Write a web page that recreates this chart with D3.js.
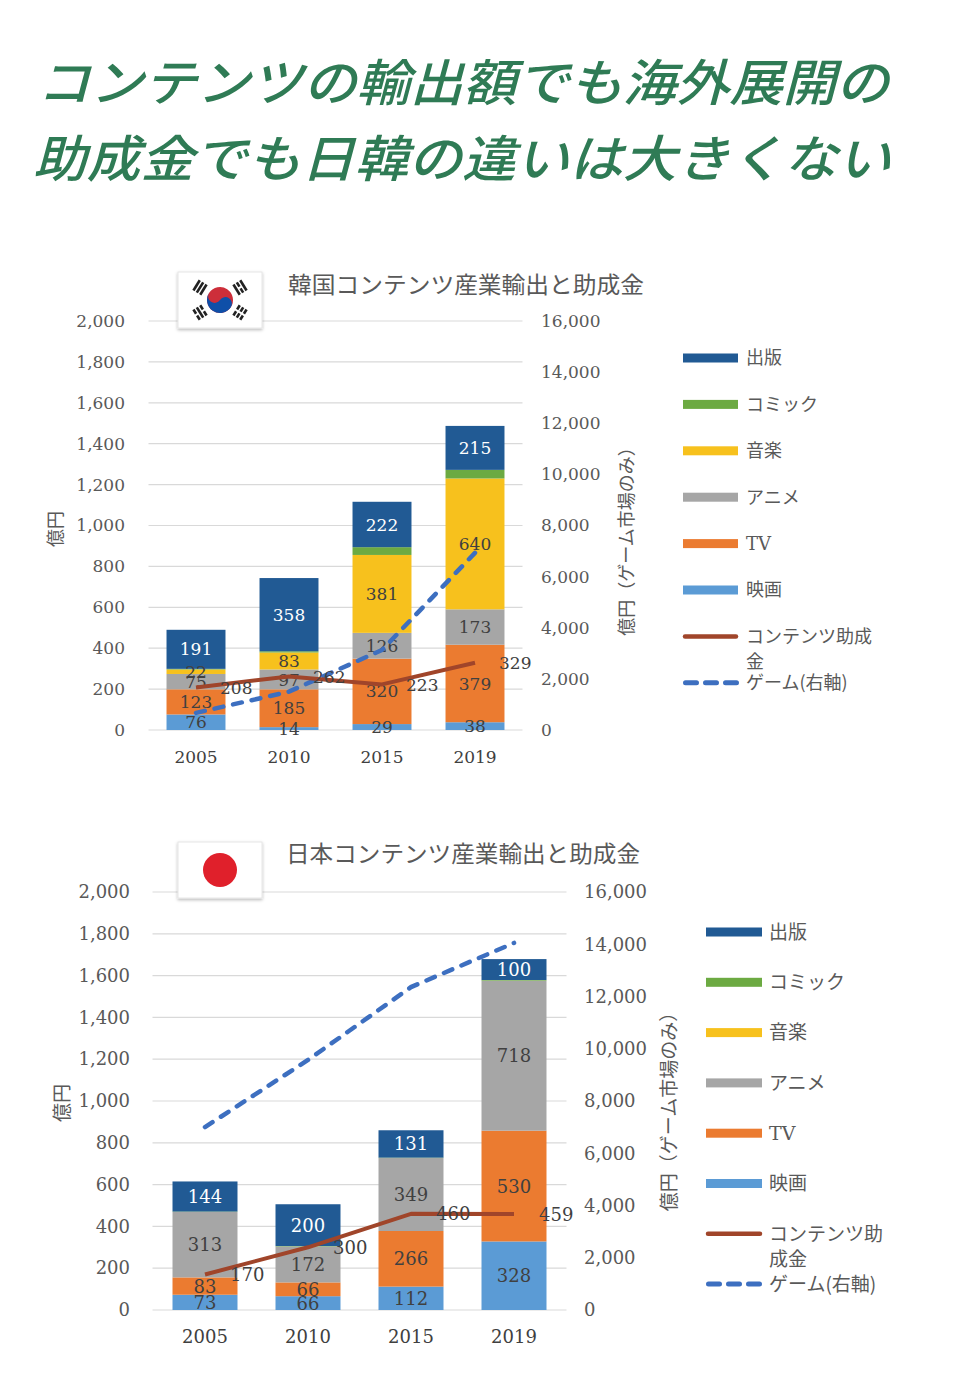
<!DOCTYPE html>
<html><head><meta charset="utf-8">
<script src="https://cdn.jsdelivr.net/npm/d3@7/dist/d3.min.js"></script>
<style>
html,body{margin:0;padding:0;background:#fff;}
svg{display:block;}
</style>
</head><body>
<svg id="chart" width="960" height="1384"></svg>
<script>
// ---------- DATA ----------
const years = ["2005", "2010", "2015", "2019"];
const seriesKeys = ["映画", "TV", "アニメ", "音楽", "コミック", "出版"]; // bottom -> top
const legendOrder = ["出版", "コミック", "音楽", "アニメ", "TV", "映画"];
const leftTicks = [0, 200, 400, 600, 800, 1000, 1200, 1400, 1600, 1800, 2000];
const rightTicks = [0, 2000, 4000, 6000, 8000, 10000, 12000, 14000, 16000];

// Korea
const krFilm = [76, 14, 29, 38];
const krTV = [123, 185, 320, 379];
const krAnime = [75, 97, 126, 173];
const krMusic = [22, 83, 381, 640];
const krComic = [3, 6, 38, 42];
const krPublish = [191, 358, 222, 215];
const krSubsidy = [208, 262, 223, 329];
const krGame = [670, 1500, 3130, 6930];

// Japan
const jpFilm = [73, 66, 112, 328];
const jpTV = [83, 66, 266, 530];
const jpAnime = [313, 172, 349, 718];
const jpMusic = [0, 0, 0, 0];
const jpComic = [2, 2, 2, 3];
const jpPublish = [144, 200, 131, 100];
const jpSubsidy = [170, 300, 460, 459];
const jpGame = [7000, 9570, 12360, 14050];

const titleLines = ["コンテンツの輸出額でも海外展開の", "助成金でも日韓の違いは大きくない"];
const krTitle = "韓国コンテンツ産業輸出と助成金";
const jpTitle = "日本コンテンツ産業輸出と助成金";
const leftAxisTitle = "億円";
const rightAxisTitle = "億円（ゲーム市場のみ）";
const subsidyName = "コンテンツ助成金";
const gameName = "ゲーム(右軸)";

// ---------- STYLE ----------
const colors = {
  "出版": "#215a94", "コミック": "#6caa42", "音楽": "#f7c11d",
  "アニメ": "#a6a6a6", "TV": "#eb7b30", "映画": "#5b9bd5"
};
const subsidyColor = "#a0452a";
const gameColor = "#3d6fc0";
const textGray = "#595959";
const numFont = "'DejaVu Serif', 'Liberation Serif', serif";
const jpFont = "'Noto Sans CJK JP', 'Noto Sans', sans-serif";

const svg = d3.select("#chart");
svg.append("rect").attr("width", 960).attr("height", 1384).attr("fill", "#fff");

const defs = svg.append("defs");
const f = defs.append("filter").attr("id", "shadow").attr("x", "-20%").attr("y", "-20%").attr("width", "140%").attr("height", "150%");
f.append("feDropShadow").attr("dx", 0).attr("dy", 1.5).attr("stdDeviation", 1.8).attr("flood-color", "#000").attr("flood-opacity", 0.28);

// ---------- HEADLINE ----------
const titleG = svg.append("g");
const titleX = [37, 33], titleY = [101, 177], titleLen = [852, 858];
titleLines.forEach((t, i) => {
  titleG.append("text")
    .attr("x", titleX[i]).attr("y", titleY[i])
    .attr("font-family", jpFont).attr("font-size", 50).attr("font-weight", 500)
    .attr("font-style", "italic")
    .attr("fill", "#2f7b55")
    .attr("textLength", titleLen[i]).attr("lengthAdjust", "spacingAndGlyphs")
    .text(t);
});

function buildTable(film, tv, anime, music, comic, publish) {
  return years.map((y, i) => ({
    year: y, "映画": film[i], "TV": tv[i], "アニメ": anime[i],
    "音楽": music[i], "コミック": comic[i], "出版": publish[i]
  }));
}

function drawFlagKR(g, cx, cy) {
  const r = 13;
  const tg = g.append("g").attr("transform", `translate(${cx},${cy}) rotate(33.7)`);
  tg.append("circle").attr("r", r).attr("fill", "#cd2e3a");
  tg.append("path").attr("fill", "#0f4fa8")
    .attr("d", `M${-r},0 A${r},${r} 0 0,0 ${r},0 A${r/2},${r/2} 0 0,0 0,0 A${r/2},${r/2} 0 0,1 ${-r},0 Z`);
  // trigrams
  const pos = [[-1, -1], [1, -1], [-1, 1], [1, 1]];
  const breaks = [[0,0,0],[0,1,0],[1,0,1],[1,1,1]];
  pos.forEach((p, k) => {
    const ang = Math.atan2(p[1] * 12.5, p[0] * 20) * 180 / Math.PI;
    const tx = cx + p[0] * 20, ty = cy + p[1] * 12.5;
    const gg = g.append("g").attr("transform", `translate(${tx},${ty}) rotate(${ang + 90})`);
    [-4, 0, 4].forEach((off, j) => {
      if (breaks[k][j]) {
        gg.append("rect").attr("x", -6).attr("y", off - 1.3).attr("width", 5).attr("height", 2.6).attr("fill", "#222");
        gg.append("rect").attr("x", 1).attr("y", off - 1.3).attr("width", 5).attr("height", 2.6).attr("fill", "#222");
      } else {
        gg.append("rect").attr("x", -6).attr("y", off - 1.3).attr("width", 12).attr("height", 2.6).attr("fill", "#222");
      }
    });
  });
}

function drawChart(cfg, table, subsidy, game) {
  const g = svg.append("g");
  const y = d3.scaleLinear().domain([0, 2000]).range([cfg.bottom, cfg.top]);
  const y2 = d3.scaleLinear().domain([0, 16000]).range([cfg.bottom, cfg.top]);
  const x = d3.scaleBand().domain(years).range([cfg.left, cfg.right])
    .paddingInner(cfg.padIn).paddingOuter(cfg.padIn / 2);
  const cx = d => x(d) + x.bandwidth() / 2;
  const fmt = d3.format(",");

  // gridlines
  g.append("g").selectAll("line").data(leftTicks).join("line")
    .attr("x1", cfg.left - 1).attr("x2", cfg.right + 1)
    .attr("y1", d => y(d)).attr("y2", d => y(d))
    .attr("stroke", "#d9d9d9").attr("stroke-width", 1.2);

  // left axis (labels only)
  const la = g.append("g").attr("transform", `translate(${cfg.left},0)`)
    .call(d3.axisLeft(y).tickValues(leftTicks).tickFormat(fmt).tickSize(0).tickPadding(cfg.left - cfg.leftTickX));
  la.select(".domain").remove();
  la.selectAll("text").attr("font-family", numFont).attr("font-size", cfg.fs).attr("fill", textGray);

  const ra = g.append("g").attr("transform", `translate(${cfg.right},0)`)
    .call(d3.axisRight(y2).tickValues(rightTicks).tickFormat(fmt).tickSize(0).tickPadding(cfg.rightTickX - cfg.right));
  ra.select(".domain").remove();
  ra.selectAll("text").attr("font-family", numFont).attr("font-size", cfg.fs).attr("fill", textGray);

  const xa = g.append("g").attr("transform", `translate(0,${cfg.xLabelY})`)
    .call(d3.axisBottom(x).tickSize(0).tickPadding(0));
  xa.select(".domain").remove();
  xa.selectAll("text").attr("font-family", numFont).attr("font-size", cfg.fs).attr("fill", "#404040")
    .attr("dy", "0.35em");

  // axis titles
  g.append("text").attr("transform", `translate(${cfg.lt[0]},${cfg.lt[1]}) rotate(-90)`)
    .attr("text-anchor", "middle").attr("dy", "0.35em")
    .attr("font-family", jpFont).attr("font-size", cfg.axFs).attr("fill", textGray).text(leftAxisTitle);
  g.append("text").attr("transform", `translate(${cfg.rt[0]},${cfg.rt[1]}) rotate(-90)`)
    .attr("text-anchor", "middle").attr("dy", "0.35em")
    .attr("font-family", jpFont).attr("font-size", cfg.axFs).attr("fill", textGray).text(rightAxisTitle);

  // bars
  const stacked = d3.stack().keys(seriesKeys)(table);
  const barG = g.append("g");
  stacked.forEach(s => {
    barG.append("g").attr("fill", colors[s.key]).selectAll("rect").data(s).join("rect")
      .attr("x", d => x(d.data.year)).attr("width", x.bandwidth())
      .attr("y", d => y(d[1])).attr("height", d => y(d[0]) - y(d[1]));
  });
  // bar labels
  const lblG = g.append("g");
  stacked.forEach(s => {
    if (s.key === "コミック") return;
    lblG.append("g").selectAll("text").data(s.filter(d => d[1] - d[0] >= 10)).join("text")
      .attr("x", d => cx(d.data.year)).attr("y", d => y((d[0] + d[1]) / 2))
      .attr("dy", "0.36em").attr("text-anchor", "middle")
      .attr("font-family", numFont).attr("font-size", cfg.fs)
      .attr("fill", s.key === "出版" ? "#fff" : "#404040")
      .text(d => d[1] - d[0]);
  });

  // game line (right axis)
  const gameData = years.map((yr, i) => ({ year: yr, v: game[i] }));
  g.append("path").datum(gameData)
    .attr("fill", "none").attr("stroke", gameColor).attr("stroke-width", 4.5)
    .attr("stroke-dasharray", "9,10").attr("stroke-linecap", "round")
    .attr("d", d3.line().x(d => cx(d.year)).y(d => y2(d.v)));

  // subsidy line (left axis)
  const subData = years.map((yr, i) => ({ year: yr, v: subsidy[i] }));
  g.append("path").datum(subData)
    .attr("fill", "none").attr("stroke", subsidyColor).attr("stroke-width", 4)
    .attr("stroke-linejoin", "round")
    .attr("d", d3.line().x(d => cx(d.year)).y(d => y(d.v)));
  g.append("g").selectAll("text").data(subData).join("text")
    .attr("x", d => cx(d.year) + cfg.subLblDx).attr("y", d => y(d.v))
    .attr("dy", "0.36em").attr("font-family", numFont).attr("font-size", cfg.fs)
    .attr("fill", "#404040").text(d => d.v);

  // flag box + chart title
  g.append("rect").attr("x", cfg.flag[0]).attr("y", cfg.flag[1]).attr("width", 84).attr("height", 56)
    .attr("fill", "#fff").attr("stroke", "#e6e6e6").attr("filter", "url(#shadow)");
  if (cfg.kr) drawFlagKR(g, cfg.flag[0] + 42, cfg.flag[1] + 28);
  else g.append("circle").attr("cx", cfg.flag[0] + 42).attr("cy", cfg.flag[1] + 28).attr("r", 17).attr("fill", "#e0202b");
  g.append("text").attr("x", cfg.title[0]).attr("y", cfg.title[1])
    .attr("font-family", jpFont).attr("font-size", cfg.titleFs).attr("fill", textGray)
    .attr("textLength", cfg.title[2]).attr("lengthAdjust", "spacingAndGlyphs")
    .text(cfg.titleText);

  // legend
  const lg = g.append("g");
  legendOrder.forEach((k, i) => {
    const yy = cfg.leg.y0 + i * cfg.leg.dy;
    lg.append("rect").attr("x", cfg.leg.x).attr("y", yy - 4.5).attr("width", cfg.leg.w).attr("height", 9)
      .attr("fill", colors[k]);
    lg.append("text").attr("x", cfg.leg.tx).attr("y", yy).attr("dy", "0.36em")
      .attr("font-family", k === "TV" ? numFont : jpFont).attr("font-size", cfg.leg.fs)
      .attr("fill", textGray).text(k);
  });
  const ySub = cfg.leg.y0 + 6 * cfg.leg.dy;
  lg.append("line").attr("x1", cfg.leg.x + 2).attr("x2", cfg.leg.x + cfg.leg.w - 2)
    .attr("y1", ySub).attr("y2", ySub).attr("stroke", subsidyColor).attr("stroke-width", 4.5)
    .attr("stroke-linecap", "round");
  const split = cfg.leg.split;
  [subsidyName.slice(0, split), subsidyName.slice(split)].forEach((t, j) => {
    lg.append("text").attr("x", cfg.leg.tx).attr("y", ySub + j * cfg.leg.lh).attr("dy", "0.36em")
      .attr("font-family", jpFont).attr("font-size", cfg.leg.fs).attr("fill", textGray).text(t);
  });
  const yGame = cfg.leg.y0 + 7 * cfg.leg.dy;
  lg.append("line").attr("x1", cfg.leg.x + 2.5).attr("x2", cfg.leg.x + cfg.leg.w)
    .attr("y1", yGame).attr("y2", yGame).attr("stroke", gameColor).attr("stroke-width", 5)
    .attr("stroke-dasharray", "11,9").attr("stroke-linecap", "round");
  lg.append("text").attr("x", cfg.leg.tx).attr("y", yGame).attr("dy", "0.36em")
    .attr("font-family", jpFont).attr("font-size", cfg.leg.fs).attr("fill", textGray).text(gameName);
}

drawChart({
  kr: true, top: 321, bottom: 730, left: 149.5, right: 521.5, padIn: 0.366,
  leftTickX: 125, rightTickX: 541, xLabelY: 757, fs: 17, axFs: 18,
  lt: [56, 529], rt: [627, 537], subLblDx: 24,
  flag: [178, 272], title: [288, 293, 356], titleFs: 23, titleText: krTitle,
  leg: { x: 683, w: 55, tx: 746, y0: 358, dy: 46.4, fs: 18, lh: 25, split: 7 }
}, buildTable(krFilm, krTV, krAnime, krMusic, krComic, krPublish), krSubsidy, krGame);

drawChart({
  kr: false, top: 892, bottom: 1310, left: 153.5, right: 565.5, padIn: 0.369,
  leftTickX: 130, rightTickX: 584, xLabelY: 1337, fs: 18, axFs: 19,
  lt: [62, 1103], rt: [669, 1107], subLblDx: 25,
  flag: [178, 842], title: [286, 862, 354], titleFs: 23, titleText: jpTitle,
  leg: { x: 706, w: 56, tx: 769, y0: 932, dy: 50.3, fs: 19, lh: 25, split: 6 }
}, buildTable(jpFilm, jpTV, jpAnime, jpMusic, jpComic, jpPublish), jpSubsidy, jpGame);
</script>
</body></html>
